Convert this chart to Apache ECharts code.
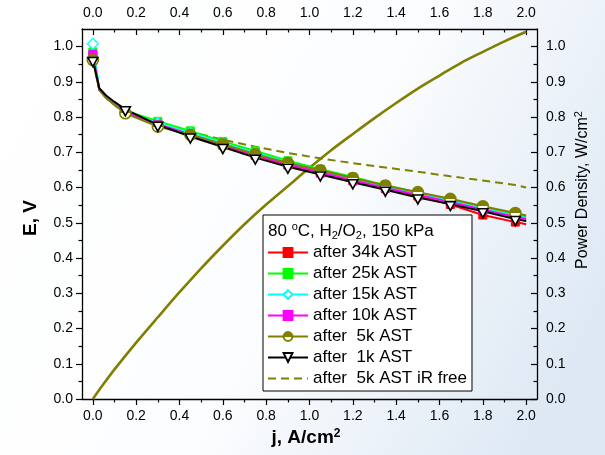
<!DOCTYPE html>
<html>
<head>
<meta charset="utf-8">
<script src="https://cdn.jsdelivr.net/npm/echarts@6/dist/echarts.min.js"></script>
<style>html,body{margin:0;padding:0;}#c{width:605px;height:455px;}</style>
</head>
<body>
<div id="c"></div>
<script>
// ---------- data ----------
const J      = [0, 0.03, 0.06, 0.10, 0.15, 0.30, 0.45, 0.60, 0.75, 0.90, 1.05, 1.20, 1.35, 1.50, 1.65, 1.80, 1.95, 2.00];
const MARKED = [1, 0, 0, 0, 1, 1, 1, 1, 1, 1, 1, 1, 1, 1, 1, 1, 1, 0];
const E_34k = [0.975, 0.877, 0.856, 0.836, 0.815, 0.781, 0.750, 0.720, 0.691, 0.664, 0.641, 0.619, 0.597, 0.576, 0.552, 0.522, 0.502, 0.496];
const E_25k = [0.985, 0.880, 0.858, 0.838, 0.818, 0.788, 0.761, 0.731, 0.704, 0.676, 0.652, 0.630, 0.607, 0.586, 0.566, 0.544, 0.524, 0.518];
const E_15k = [1.008, 0.878, 0.856, 0.836, 0.815, 0.783, 0.755, 0.726, 0.698, 0.671, 0.648, 0.625, 0.603, 0.582, 0.562, 0.540, 0.520, 0.514];
const E_10k = [0.978, 0.877, 0.855, 0.835, 0.814, 0.780, 0.751, 0.721, 0.692, 0.666, 0.643, 0.621, 0.599, 0.579, 0.559, 0.537, 0.517, 0.511];
const E_5k  = [0.962, 0.877, 0.855, 0.834, 0.811, 0.773, 0.750, 0.723, 0.695, 0.670, 0.649, 0.627, 0.606, 0.587, 0.568, 0.547, 0.528, 0.521];
const E_1k  = [0.962, 0.882, 0.862, 0.843, 0.822, 0.778, 0.745, 0.715, 0.685, 0.659, 0.637, 0.615, 0.594, 0.572, 0.553, 0.533, 0.511, 0.505];
const E_IR  = [0.962, 0.878, 0.857, 0.837, 0.815, 0.778, 0.758, 0.736, 0.716, 0.698, 0.683, 0.669, 0.657, 0.645, 0.632, 0.620, 0.607, 0.600];
const PJ = [0, 0.05, 0.1, 0.2, 0.3, 0.4, 0.5, 0.6, 0.7, 0.8, 0.9, 1.0, 1.1, 1.2, 1.3, 1.4, 1.5, 1.6, 1.7, 1.8, 1.9, 2.0];
const PW = [0, 0.043, 0.084, 0.160, 0.232, 0.303, 0.371, 0.435, 0.496, 0.552, 0.604, 0.656, 0.706, 0.752, 0.797, 0.840, 0.881, 0.918, 0.954, 0.985, 1.015, 1.042];
const X_TICKS = [0, 0.2, 0.4, 0.6, 0.8, 1.0, 1.2, 1.4, 1.6, 1.8, 2.0];
const X_MINOR = [0.1, 0.3, 0.5, 0.7, 0.9, 1.1, 1.3, 1.5, 1.7, 1.9];
const Y_TICKS = [0, 0.1, 0.2, 0.3, 0.4, 0.5, 0.6, 0.7, 0.8, 0.9, 1.0];
const Y_MINOR = [0.05, 0.15, 0.25, 0.35, 0.45, 0.55, 0.65, 0.75, 0.85, 0.95];
const NAMES = ['after 34k AST', 'after 25k AST', 'after 15k AST', 'after 10k AST', 'after  5k AST', 'after  1k AST', 'after  5k AST iR free'];

// ---------- chart ----------
const FONT = 'Liberation Sans, Arial, sans-serif';
const OLIVE = '#808000';
function pts(E, marks) {
  return J.map((j, i) => {
    const it = { value: [j, E[i]] };
    if (!marks || !marks[i]) it.symbol = 'none';
    return it;
  });
}
const HALF_FILL = {
  type: 'linear', x: 0, y: 0, x2: 0, y2: 1,
  colorStops: [{ offset: 0, color: OLIVE }, { offset: 0.52, color: OLIVE },
               { offset: 0.52, color: '#ffffff' }, { offset: 1, color: '#ffffff' }]
};

function lineSeries(name, E, color, sym, extra) {
  return Object.assign({
    name: name, type: 'line', xAxisIndex: 0, yAxisIndex: 0,
    data: pts(E, MARKED), showSymbol: true, showAllSymbol: true,
    symbol: sym, symbolSize: 8,
    lineStyle: { color: color, width: 2 },
    itemStyle: { color: color, borderColor: color, borderWidth: 1 },
    z: 3
  }, extra || {});
}

const tickLine = { color: '#000', width: 1.2 };
function xAx(pos, vals, len, inside, labels, line) {
  return {
    type: 'value', position: pos, min: -0.05, max: 2.05,
    splitLine: { show: false },
    axisLine: { show: line, onZero: false, lineStyle: { color: '#000', width: 1.3 } },
    axisTick: { show: true, customValues: vals, length: len, inside: inside, lineStyle: tickLine },
    axisLabel: labels ? { show: true, customValues: vals, formatter: v => v.toFixed(1), margin: pos === 'top' ? 9 : 10,
                          fontSize: 14, fontFamily: FONT, color: '#000' } : { show: false }
  };
}
function yAx(pos, vals, len, inside, labels, line) {
  return {
    type: 'value', position: pos, min: 0, max: 1.05,
    splitLine: { show: false },
    axisLine: { show: line, onZero: false, lineStyle: { color: '#000', width: 1.3 } },
    axisTick: { show: true, customValues: vals, length: len, inside: inside, lineStyle: tickLine },
    axisLabel: labels ? { show: true, customValues: vals, formatter: v => v.toFixed(1), margin: 9,
                          fontSize: 14, fontFamily: FONT, color: '#000' } : { show: false }
  };
}

const chart = echarts.init(document.getElementById('c'), null, { renderer: 'canvas' });
const option = {
  animation: false,
  backgroundColor: {
    type: 'linear', x: 0, y: 0, x2: 1, y2: 0.7,
    colorStops: [{ offset: 0, color: '#ffffff' }, { offset: 0.55, color: '#fcfdfe' }, { offset: 1, color: '#dde8f4' }]
  },
  grid: { left: 82, right: 68, top: 29, bottom: 56, outerBoundsMode: 'none' },
  xAxis: [
    xAx('bottom', X_TICKS, 6, false, true, true),
    xAx('top', X_TICKS, 6, true, true, true),
    xAx('bottom', X_MINOR, 3.5, false, false, false),
    xAx('top', X_MINOR, 3.5, true, false, false)
  ],
  yAxis: [
    yAx('left', Y_TICKS, 6, false, true, true),
    yAx('right', Y_TICKS, 6, true, true, true),
    yAx('left', Y_MINOR, 3.5, false, false, false),
    yAx('right', Y_MINOR, 3.5, true, false, false)
  ],
  legend: {
    orient: 'vertical', left: 263, top: 215,
    padding: [29, 5, 4, 4], itemWidth: 40, itemHeight: 11, itemGap: 4,
    borderColor: '#000', borderWidth: 1, backgroundColor: '#ffffff',
    selectedMode: false,
    textStyle: { fontSize: 17, fontFamily: FONT, color: '#000', lineHeight: 17 },
    data: NAMES
  },
  series: [
    {
      name: 'power', type: 'line', xAxisIndex: 0, yAxisIndex: 1,
      data: PJ.map((j, i) => [j, PW[i]]), showSymbol: false, smooth: 0.3,
      lineStyle: { color: OLIVE, width: 2.6 }, itemStyle: { color: OLIVE }, z: 2
    },
    {
      name: NAMES[6], type: 'line', xAxisIndex: 0, yAxisIndex: 0,
      data: J.map((j, i) => [j, E_IR[i]]), showSymbol: false, symbol: 'circle', symbolSize: 1,
      lineStyle: { color: OLIVE, width: 2, type: [8, 5] },
      itemStyle: { color: 'rgba(0,0,0,0)', borderColor: 'rgba(0,0,0,0)', borderWidth: 0 }, z: 2
    },
    lineSeries(NAMES[0], E_34k, '#ff0000', 'rect', { symbolSize: 8 }),
    lineSeries(NAMES[1], E_25k, '#00ff00', 'rect', { symbolSize: 8 }),
    lineSeries(NAMES[2], E_15k, '#00ffff', 'diamond', { symbolSize: 11,
      itemStyle: { color: '#ffffff', borderColor: '#00ffff', borderWidth: 1.3 } }),
    lineSeries(NAMES[3], E_10k, '#ff00ff', 'rect', { symbolSize: 8 }),
    lineSeries(NAMES[4], E_5k, OLIVE, 'circle', { symbolSize: 11,
      itemStyle: { color: HALF_FILL, borderColor: OLIVE, borderWidth: 1.6 } }),
    lineSeries(NAMES[5], E_1k, '#000000', 'triangle', { symbolSize: [10, 9], symbolRotate: 180, symbolOffset: [0, 2],
      itemStyle: { color: '#ffffff', borderColor: '#000000', borderWidth: 1.6 } })
  ],
  graphic: [
    { type: 'text', x: 268, y: 231, z: 100, zlevel: 0,
      style: { text: '80 {sup|o}C, H{sub|2}/O{sub|2}, 150 kPa', fontSize: 17, fontFamily: FONT, fill: '#000',
               verticalAlign: 'middle', textVerticalAlign: 'middle',
               rich: { sup: { fontSize: 11, fontFamily: FONT, padding: [0, 0, 9, 0] },
                       sub: { fontSize: 11, fontFamily: FONT, padding: [9, 0, 0, 0] } } } },
    { type: 'text', x: 31, y: 218, rotation: Math.PI / 2,
      style: { text: 'E, V', fontSize: 19, fontWeight: 'bold', fontFamily: FONT, fill: '#000',
               align: 'center', verticalAlign: 'middle', textAlign: 'center', textVerticalAlign: 'middle' } },
    { type: 'text', x: 306, y: 438,
      style: { text: 'j, A/cm{sup|2}', fontSize: 19, fontWeight: 'bold', fontFamily: FONT, fill: '#000',
               align: 'center', verticalAlign: 'middle', textAlign: 'center', textVerticalAlign: 'middle',
               rich: { sup: { fontSize: 12, fontWeight: 'bold', fontFamily: FONT, padding: [0, 0, 9, 0] } } } },
    { type: 'text', x: 583, y: 190, rotation: Math.PI / 2,
      style: { text: 'Power Density, W/cm{sup|2}', fontSize: 16, fontFamily: FONT, fill: '#000',
               align: 'center', verticalAlign: 'middle', textAlign: 'center', textVerticalAlign: 'middle',
               rich: { sup: { fontSize: 11, fontFamily: FONT, padding: [0, 0, 8, 0] } } } }
  ]
};
chart.setOption(option);
</script>
</body>
</html>
